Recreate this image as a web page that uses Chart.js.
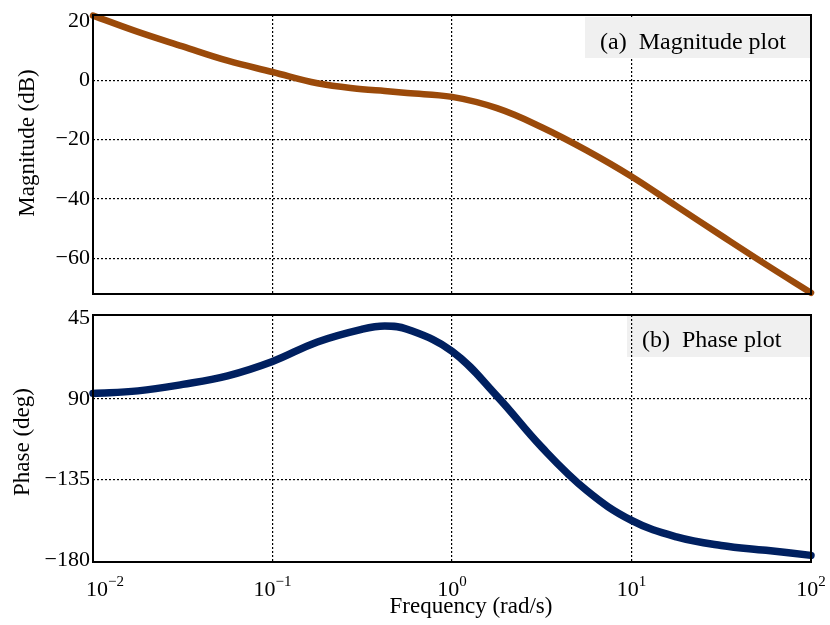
<!DOCTYPE html>
<html>
<head>
<meta charset="utf-8">
<script src="https://cdn.jsdelivr.net/npm/chart.js@4.4.1/dist/chart.umd.min.js"></script>
<style>
  body { margin: 0; background: #fff; }
  #wrap { position: relative; width: 830px; height: 625px; }
  canvas { position: absolute; left: 0; }
</style>
</head>
<body>
<div id="wrap">
  <canvas id="magChart" width="830" height="300" style="top:0"></canvas>
  <canvas id="phaseChart" width="830" height="325" style="top:300px"></canvas>
</div>
<script>
// values (rad/s, dB, deg)
const freqs = [0.01, 0.0178, 0.0316, 0.0562, 0.1, 0.178, 0.316, 0.422, 0.562, 1, 1.78, 3.16, 5.62, 10, 17.8, 31.6, 56.2, 100];
const magDb = [21.8, 16.3, 11.4, 6.6, 2.8, -1.0, -3.0, -3.6, -4.3, -5.6, -9.4, -15.8, -23.6, -32.4, -42.4, -52.3, -62.1, -71.6];
const phaseDeg = [-87.0, -85.6, -82.0, -77.2, -69.2, -58.3, -51.2, -49.4, -51.2, -63.5, -88.5, -117.0, -141.1, -157.8, -167.0, -171.8, -174.5, -177.3];

const decadeTicks = [0.01, 0.1, 1, 10, 100];
const decadeExp = ['−2', '−1', '0', '1', '2'];
const magTicks = [20, 0, -20, -40, -60];
const phaseTicks = [-45, -90, -135, -180];
const phaseTickLabels = ['45', '90', '−135', '−180'];

const serif = "'Liberation Serif', 'Times New Roman', serif";
const dotted = (show) => (c) => show(c.tick && c.tick.value) ? '#000' : 'rgba(0,0,0,0)';

function xAxis(height) {
  return {
    type: 'logarithmic',
    min: 0.01,
    max: 100,
    afterBuildTicks: s => { s.ticks = decadeTicks.map(v => ({ value: v })); },
    afterFit: s => { s.height = height; s.paddingLeft = 0; s.paddingRight = 0; },
    ticks: { display: false },
    // in v4 the grid dash comes from border.dash
    border: { display: false, dash: [2, 2] },
    grid: {
      drawTicks: false,
      lineWidth: 1.2,
      color: dotted(v => v > 0.01 && v < 100)
    }
  };
}

function yAxis(min, max, ticks, labelFor, hideGrid) {
  return {
    type: 'linear',
    min: min,
    max: max,
    afterBuildTicks: s => { s.ticks = ticks.map(v => ({ value: v })); },
    afterFit: s => { s.width = 93; s.paddingTop = 0; s.paddingBottom = 0; },
    border: { display: false, dash: [2, 2] },
    grid: {
      drawTicks: false,
      lineWidth: 1.2,
      color: dotted(v => !hideGrid.includes(v))
    },
    ticks: {
      padding: 3,
      color: '#000',
      font: { family: serif, size: 22 },
      callback: labelFor
    }
  };
}

function frame(chart) {
  const { ctx, chartArea: a } = chart;
  ctx.save();
  ctx.strokeStyle = '#000';
  ctx.lineWidth = 2;
  ctx.strokeRect(a.left, a.top, a.right - a.left, a.bottom - a.top);
  ctx.restore();
}

function yTitle(ctx, text, x, y) {
  ctx.save();
  ctx.translate(x, y);
  ctx.rotate(-Math.PI / 2);
  ctx.font = '23px ' + serif;
  ctx.fillStyle = '#000';
  ctx.textAlign = 'center';
  ctx.textBaseline = 'middle';
  ctx.fillText(text, 0, 0);
  ctx.restore();
}

function legendBox(ctx, x0, y0, x1, y1, text, tx, ty) {
  ctx.save();
  ctx.fillStyle = '#f0f0f0';
  ctx.fillRect(x0, y0, x1 - x0, y1 - y0);
  ctx.font = '24px ' + serif;
  ctx.fillStyle = '#000';
  ctx.textBaseline = 'alphabetic';
  ctx.fillText(text, tx, ty);
  ctx.restore();
}

const magPlugin = {
  id: 'magDeco',
  afterDatasetsDraw(chart) {
    legendBox(chart.ctx, 585, 17, 810, 58, '(a)  Magnitude plot', 600, 49);
  },
  afterDraw(chart) {
    frame(chart);
    yTitle(chart.ctx, 'Magnitude (dB)', 28, 143);
  }
};

const phasePlugin = {
  id: 'phaseDeco',
  beforeDraw(chart) {
    legendBox(chart.ctx, 627, 16, 810, 57, '(b)  Phase plot', 642, 47);
  },
  afterDraw(chart) {
    const ctx = chart.ctx;
    frame(chart);
    yTitle(ctx, 'Phase (deg)', 23, 142);

    // decade labels 10^n
    const xs = chart.scales.x;
    ctx.save();
    ctx.fillStyle = '#000';
    ctx.textBaseline = 'alphabetic';
    decadeTicks.forEach((v, i) => {
      ctx.font = '22px ' + serif;
      const wBase = ctx.measureText('10').width;
      ctx.font = '15px ' + serif;
      const wExp = ctx.measureText(decadeExp[i]).width;
      let left = xs.getPixelForValue(v) - (wBase + wExp) / 2;
      if (left < 86) left = 86;
      ctx.font = '22px ' + serif;
      ctx.fillText('10', left, 296);
      ctx.font = '15px ' + serif;
      ctx.fillText(decadeExp[i], left + wBase, 286);
    });
    ctx.font = '23px ' + serif;
    ctx.textAlign = 'center';
    ctx.fillText('Frequency (rad/s)', 471, 313);
    ctx.restore();
  }
};

function baseOptions(yScale, xHeight) {
  return {
    responsive: false,
    devicePixelRatio: 1,
    animation: false,
    events: [],
    layout: { padding: { left: 0, right: 19, top: 15, bottom: 0 } },
    plugins: { legend: { display: false }, tooltip: { enabled: false } },
    scales: { x: xAxis(xHeight), y: yScale }
  };
}

new Chart(document.getElementById('magChart'), {
  type: 'line',
  data: {
    datasets: [{
      data: freqs.map((f, i) => ({ x: f, y: magDb[i] })),
      borderColor: '#9b4a0a',
      borderWidth: 6.5,
      borderCapStyle: 'round',
      borderJoinStyle: 'round',
      tension: 0.4,
      pointRadius: 0,
      clip: false
    }]
  },
  options: baseOptions(
    yAxis(-72, 22, magTicks, v => v < 0 ? '−' + Math.abs(v) : String(v), [20]),
    6
  ),
  plugins: [magPlugin]
});

new Chart(document.getElementById('phaseChart'), {
  type: 'line',
  data: {
    datasets: [{
      data: freqs.map((f, i) => ({ x: f, y: phaseDeg[i] })),
      borderColor: '#002060',
      borderWidth: 7.5,
      borderCapStyle: 'round',
      borderJoinStyle: 'round',
      tension: 0.4,
      pointRadius: 0,
      clip: false
    }]
  },
  options: baseOptions(
    yAxis(-181, -43.3, phaseTicks, v => phaseTickLabels[phaseTicks.indexOf(v)], [-45, -180]),
    63
  ),
  plugins: [phasePlugin]
});
</script>
</body>
</html>
